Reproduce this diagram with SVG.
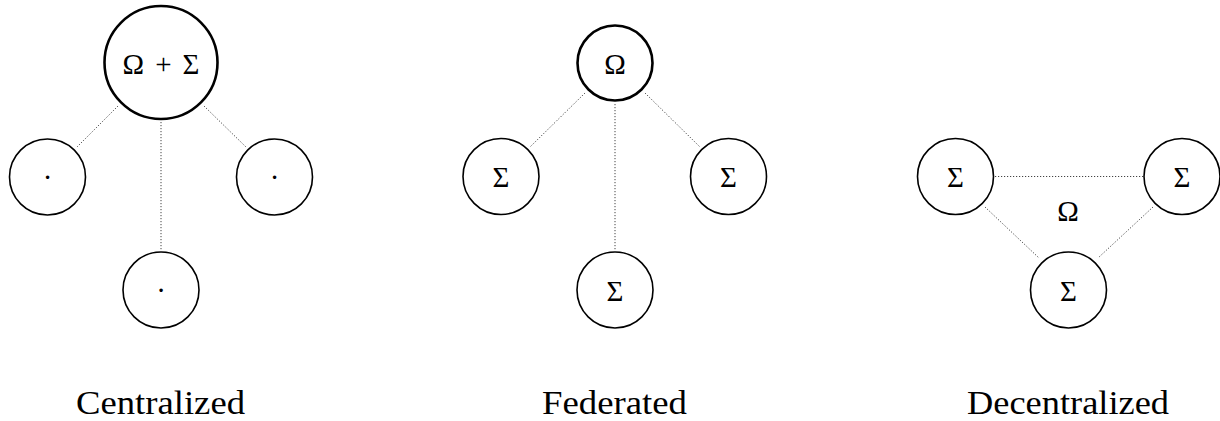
<svg xmlns="http://www.w3.org/2000/svg" width="1220" height="421" viewBox="0 0 1220 421">
<style>
.node{fill:#fff;stroke:#000;stroke-width:1.6}
.main{fill:#fff;stroke:#000;stroke-width:2.6}
.edge{stroke:#444;stroke-width:1;stroke-dasharray:1.2 1.8;fill:none}
.sym{font-family:"Liberation Serif",serif;font-size:29px;text-anchor:middle;fill:#000}
.lbl{font-family:"Liberation Serif",serif;font-size:33px;text-anchor:middle;fill:#000}
</style>
<rect width="1220" height="421" fill="#fff"/>
<g id="connectors">
<line class="edge" x1="118" y1="106" x2="77" y2="147"/>
<line class="edge" x1="161" y1="122" x2="161" y2="251"/>
<line class="edge" x1="204" y1="106" x2="246" y2="147"/>
<line class="edge" x1="585" y1="93" x2="530" y2="147"/>
<line class="edge" x1="615" y1="104" x2="615" y2="251"/>
<line class="edge" x1="645" y1="93" x2="700" y2="147"/>
<line class="edge" x1="995" y1="176.5" x2="1143" y2="176.5"/>
<line class="edge" x1="985" y1="207" x2="1039" y2="258"/>
<line class="edge" x1="1153" y1="207" x2="1098" y2="258"/>
</g>
<g id="c-center"><circle class="main" cx="161" cy="62.5" r="56.5"/><text class="sym" x="161" y="73.5" textLength="77" lengthAdjust="spacing">Ω + Σ</text></g>
<g id="c-left"><circle class="node" cx="47.5" cy="177" r="38"/><text class="sym" x="47.5" y="187">·</text></g>
<g id="c-right"><circle class="node" cx="274.5" cy="177" r="38"/><text class="sym" x="274.5" y="187">·</text></g>
<g id="c-bottom"><circle class="node" cx="161" cy="290" r="38"/><text class="sym" x="161" y="300">·</text></g>
<g id="f-top"><circle class="main" cx="615" cy="63" r="37.5"/><text class="sym" x="615" y="73.5">Ω</text></g>
<g id="f-left"><circle class="node" cx="501" cy="176.5" r="38"/><text class="sym" x="501" y="187">Σ</text></g>
<g id="f-right"><circle class="node" cx="728.5" cy="176.5" r="38"/><text class="sym" x="728.5" y="187">Σ</text></g>
<g id="f-bottom"><circle class="node" cx="615" cy="290" r="38"/><text class="sym" x="615" y="300.5">Σ</text></g>
<g id="d-left"><circle class="node" cx="955.5" cy="176.5" r="38"/><text class="sym" x="955.5" y="187">Σ</text></g>
<g id="d-right"><circle class="node" cx="1182" cy="176.5" r="38"/><text class="sym" x="1182" y="187">Σ</text></g>
<g id="d-bottom"><circle class="node" cx="1068.5" cy="290" r="38"/><text class="sym" x="1068.5" y="300.5">Σ</text></g>
<g id="d-omega"><text class="sym" x="1068" y="221">Ω</text></g>
<g id="labels">
<text class="lbl" x="160.5" y="414" textLength="169" lengthAdjust="spacingAndGlyphs">Centralized</text>
<text class="lbl" x="614.5" y="414" textLength="145" lengthAdjust="spacingAndGlyphs">Federated</text>
<text class="lbl" x="1068" y="414" textLength="202" lengthAdjust="spacingAndGlyphs">Decentralized</text>
</g>
</svg>
